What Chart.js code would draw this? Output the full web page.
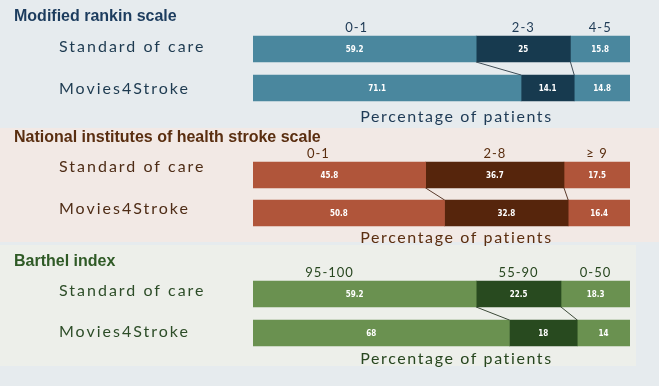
<!DOCTYPE html>
<html>
<head>
<meta charset="utf-8">
<script src="https://cdn.jsdelivr.net/npm/chart.js@4.4.1/dist/chart.umd.min.js"></script>
<style>
  body { margin: 0; background: #e6ebee; width: 659px; height: 386px; overflow: hidden; position: relative; }
  .bg, canvas { position: absolute; left: 0; }
  #bg2 { top: 128px; width: 659px; height: 114px; background: #f2e9e5; }
  #bg3 { top: 245px; width: 636px; height: 121px; background: #edefea; }
  #c1 { top: 0; }
  #c2 { top: 128px; }
  #c3 { top: 242px; }
</style>
</head>
<body>
<div class="bg" id="bg2"></div>
<div class="bg" id="bg3"></div>
<canvas id="c1" width="659" height="128"></canvas>
<canvas id="c2" width="659" height="124"></canvas>
<canvas id="c3" width="659" height="144"></canvas>
<script>
const rowLabels = ['Standard of care', 'Movies4Stroke'];
const axisTitle = 'Percentage of patients';

const rankinGroups = ['0-1', '2-3', '4-5'];
const rankinCare = [59.2, 25, 15.8];
const rankinMovies = [71.1, 14.1, 14.8];

const nihssGroups = ['0-1', '2-8', '\u2265 9'];
const nihssCare = [45.8, 36.7, 17.5];
const nihssMovies = [50.8, 32.8, 16.4];

const barthelGroups = ['95-100', '55-90', '0-50'];
const barthelCare = [59.2, 22.5, 18.3];
const barthelMovies = [68, 18, 14];

const geo = 'Lato, "Open Sans", sans-serif';

const decor = {
    id: 'decor',
    afterDatasetsDraw(chart, args, opts) {
        const ctx = chart.ctx;
        const metas = chart.data.datasets.map((d, i) => chart.getDatasetMeta(i));
        ctx.save();
        // lines joining the segment borders of the two bars
        ctx.strokeStyle = opts.lineColor;
        ctx.lineWidth = 1;
        for (let i = 0; i < metas.length - 1; i++) {
            const a = metas[i].data[0], b = metas[i].data[1];
            ctx.beginPath();
            ctx.moveTo(a.x, a.y + a.height / 2);
            ctx.lineTo(b.x, b.y - b.height / 2);
            ctx.stroke();
        }
        // values inside the bars
        ctx.fillStyle = '#ffffff';
        ctx.font = 'bold 8px "DejaVu Sans Condensed", "DejaVu Sans", sans-serif';
        ctx.textAlign = 'center';
        ctx.textBaseline = 'middle';
        chart.data.datasets.forEach((ds, i) => {
            metas[i].data.forEach((el, j) => {
                const shift = i === 0 ? -10 : 0;
                ctx.fillText(String(ds.data[j]), (el.x + el.base) / 2 + shift, el.y + 0.5);
            });
        });
        // group names above the first bar
        ctx.fillStyle = opts.color;
        ctx.font = '13px ' + geo;
        ctx.letterSpacing = '1px';
        chart.data.datasets.forEach((ds, i) => {
            const el = metas[i].data[0];
            const shift = i === 0 ? opts.firstShift : 0;
            ctx.fillText(ds.label, (el.x + el.base) / 2 + shift, el.y - el.height / 2 - 8);
        });
        // row labels
        ctx.fillStyle = opts.rowColor;
        ctx.font = '16px ' + geo;
        ctx.letterSpacing = '2px';
        ctx.textAlign = 'left';
        rowLabels.forEach((lab, j) => {
            const el = metas[0].data[j];
            ctx.fillText(lab, 59, el.y + opts.rowShift[j]);
        });
        // axis title
        const area = chart.chartArea;
        ctx.textAlign = 'center';
        ctx.fillStyle = opts.color;
        ctx.font = '16px ' + geo;
        ctx.letterSpacing = '1.6px';
        ctx.fillText(axisTitle, (area.left + area.right) / 2 + 15, area.bottom + opts.titleGap);
        // panel title
        ctx.letterSpacing = '0px';
        ctx.textAlign = 'left';
        ctx.textBaseline = 'alphabetic';
        ctx.fillStyle = opts.titleColor;
        ctx.font = 'bold 16px "Liberation Sans", Arial, sans-serif';
        ctx.fillText(opts.title, 14, opts.titleY);
        ctx.restore();
    }
};

function makePanel(id, groups, care, movies, style) {
    const datasets = groups.map((g, i) => ({
        label: g,
        data: [care[i], movies[i]],
        backgroundColor: i === 1 ? style.dark : style.light,
        barThickness: 26
    }));
    return new Chart(document.getElementById(id), {
        type: 'bar',
        data: { labels: rowLabels, datasets: datasets },
        options: {
            indexAxis: 'y',
            responsive: false,
            animation: false,
            layout: { padding: style.padding },
            plugins: {
                legend: { display: false },
                tooltip: { enabled: false },
                decor: style
            },
            scales: {
                x: { stacked: true, min: 0, max: 100, display: false },
                y: { stacked: true, display: false }
            }
        },
        plugins: [decor]
    });
}

makePanel('c1', rankinGroups, rankinCare, rankinMovies, {
    title: 'Modified rankin scale', titleY: 21,
    titleColor: '#1c3c5e', color: '#1e3a55', rowColor: '#1d3a50',
    light: '#4a879e', dark: '#173a4f', lineColor: '#3f4d57',
    padding: { left: 253, right: 29, top: 29.5, bottom: 20.5 },
    rowShift: [-2, 1], firstShift: -8, titleGap: 9
});
makePanel('c2', nihssGroups, nihssCare, nihssMovies, {
    title: 'National institutes of health stroke scale', titleY: 14,
    titleColor: '#5a2e10', color: '#5a2e10', rowColor: '#4e2c16',
    light: '#b0553a', dark: '#56250c', lineColor: '#5a3a2c',
    padding: { left: 253, right: 29, top: 28, bottom: 20 },
    rowShift: [-8, -4], firstShift: -21, titleGap: 6
});
makePanel('c3', barthelGroups, barthelCare, barthelMovies, {
    title: 'Barthel index', titleY: 24,
    titleColor: '#2f5a26', color: '#27461f', rowColor: '#2d4d28',
    light: '#6a9150', dark: '#284a1f', lineColor: '#3c4a38',
    padding: { left: 253, right: 29, top: 32.5, bottom: 33.5 },
    rowShift: [-3, -1], firstShift: -35, titleGap: 6
});
</script>
</body>
</html>
